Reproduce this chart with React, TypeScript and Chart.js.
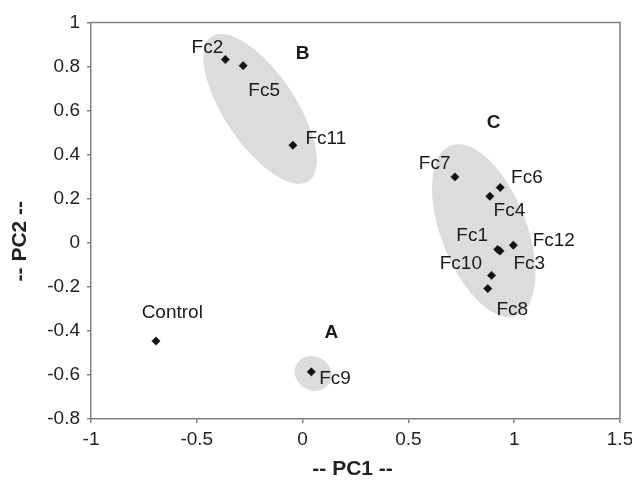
import React, { useEffect, useRef } from "react";
import { Chart, registerables } from "chart.js";

Chart.register(...registerables);

// ---- data ----
const sampleNames = ["Fc1", "Fc2", "Fc3", "Fc4", "Fc5", "Fc6", "Fc7", "Fc8", "Fc9", "Fc10", "Fc11", "Fc12", "Control"];
const pc1Values = [0.922, -0.365, 0.933, 0.885, -0.281, 0.934, 0.72, 0.875, 0.041, 0.893, -0.046, 0.996, -0.693];
const pc2Values = [-0.03, 0.832, -0.037, 0.211, 0.804, 0.251, 0.299, -0.208, -0.586, -0.148, 0.443, -0.011, -0.446];

const xTickValues = [-1, -0.5, 0, 0.5, 1, 1.5];
const xTickLabels = ["-1", "-0.5", "0", "0.5", "1", "1.5"];
const yTickValues = [-0.8, -0.6, -0.4, -0.2, 0, 0.2, 0.4, 0.6, 0.8, 1];
const yTickLabels = ["-0.8", "-0.6", "-0.4", "-0.2", "0", "0.2", "0.4", "0.6", "0.8", "1"];

const groupNames = ["A", "B", "C"];
const groupPc1 = [0.136, 0.0, 0.903];
const groupPc2 = [-0.408, 0.856, 0.547];

// cluster ellipse centres (data units)
const ellipseGroups = ["A", "B", "C"];
const ellipsePc1 = [0.05, -0.201, 0.856];
const ellipsePc2 = [-0.593, 0.608, 0.055];

// ---- styling / placement (pixels) ----
const ellipseShape = [
  { rx: 19, ry: 17, rot: 30 },
  { rx: 87, ry: 35.6, rot: 56.2 },
  { rx: 91.3, ry: 42.7, rot: 68.8 },
];
const labelOffsets: [number, number][] = [
  [-25.5, -13.2], // Fc1
  [-18, -12], // Fc2
  [29.2, 12.5], // Fc3
  [19.5, 14.8], // Fc4
  [21, 25.5], // Fc5
  [26.7, -9.8], // Fc6
  [-20.3, -13.4], // Fc7
  [24.5, 20.9], // Fc8
  [23.8, 7.1], // Fc9
  [-30.7, -11.8], // Fc10
  [33, -6], // Fc11
  [40.4, -4.5], // Fc12
  [16.3, -28.7], // Control
];

const FONT = "'Liberation Sans', Arial, sans-serif";
const AXIS_COLOR = "#808080";

const ellipsePlugin = {
  id: "ellipses",
  beforeDatasetsDraw(chart: any) {
    const { ctx, scales } = chart;
    ctx.save();
    ctx.fillStyle = "#dcdcdc";
    ellipseGroups.forEach((_, i) => {
      const cx = scales.x.getPixelForValue(ellipsePc1[i]);
      const cy = scales.y.getPixelForValue(ellipsePc2[i]);
      const s = ellipseShape[i];
      ctx.beginPath();
      ctx.ellipse(cx, cy, s.rx, s.ry, (s.rot * Math.PI) / 180, 0, Math.PI * 2);
      ctx.fill();
    });
    ctx.restore();
  },
};

const labelPlugin = {
  id: "pointLabels",
  afterDatasetsDraw(chart: any) {
    const { ctx, scales } = chart;
    const meta = chart.getDatasetMeta(0);
    ctx.save();
    ctx.textAlign = "center";
    ctx.textBaseline = "middle";
    ctx.fillStyle = "#1a1a1a";
    ctx.font = `19px ${FONT}`;
    meta.data.forEach((pt: any, i: number) => {
      const [dx, dy] = labelOffsets[i];
      ctx.fillText(sampleNames[i], pt.x + dx, pt.y + dy);
    });
    ctx.font = `bold 19px ${FONT}`;
    groupNames.forEach((g, i) => {
      ctx.fillText(g, scales.x.getPixelForValue(groupPc1[i]), scales.y.getPixelForValue(groupPc2[i]));
    });
    ctx.restore();
  },
};

const framePlugin = {
  id: "frame",
  afterDraw(chart: any) {
    const { ctx, chartArea } = chart;
    ctx.save();
    ctx.strokeStyle = AXIS_COLOR;
    ctx.lineWidth = 1.5;
    ctx.beginPath();
    ctx.moveTo(chartArea.left, chartArea.top);
    ctx.lineTo(chartArea.right, chartArea.top);
    ctx.lineTo(chartArea.right, chartArea.bottom);
    ctx.stroke();
    ctx.restore();
  },
};

export default function App() {
  const ref = useRef<HTMLCanvasElement | null>(null);

  useEffect(() => {
    if (!ref.current) return;
    const chart = new Chart(ref.current, {
      type: "scatter",
      data: {
        datasets: [
          {
            label: "PCA",
            data: pc1Values.map((x, i) => ({ x, y: pc2Values[i] })),
            pointStyle: "rectRot",
            pointRadius: 4.2,
            pointHoverRadius: 4.2,
            backgroundColor: "#111111",
            borderColor: "#111111",
            borderWidth: 0.5,
          },
        ],
      },
      options: {
        responsive: false,
        animation: false,
        events: [],
        layout: { padding: { top: 22.5, right: 12, left: 0, bottom: 0 } },
        plugins: {
          legend: { display: false },
          tooltip: { enabled: false },
          title: { display: false },
        },
        scales: {
          x: {
            type: "linear",
            min: -1,
            max: 1.5,
            afterBuildTicks: (scale: any) => {
              scale.ticks = xTickValues.map((v) => ({ value: v }));
            },
            afterFit: (scale: any) => {
              scale.height = 61;
              scale.paddingRight = 12;
              scale.paddingLeft = 0;
            },
            ticks: {
              callback: (_v: any, i: number) => xTickLabels[i],
              font: { family: FONT, size: 19 },
              color: "#222222",
              padding: 5,
              maxRotation: 0,
            },
            grid: {
              drawOnChartArea: false,
              drawTicks: true,
              tickLength: 4,
              color: AXIS_COLOR,
              lineWidth: 1.5,
            },
            border: { display: true, color: AXIS_COLOR, width: 1.5 },
            title: {
              display: true,
              text: "-- PC1 --\u00A0",
              font: { family: FONT, size: 21, weight: "bold", lineHeight: 1 },
              color: "#222222",
              padding: { top: 0, bottom: 0 },
            },
          },
          y: {
            type: "linear",
            min: -0.8,
            max: 1,
            afterBuildTicks: (scale: any) => {
              scale.ticks = yTickValues.map((v) => ({ value: v }));
            },
            afterFit: (scale: any) => {
              scale.width = 91;
            },
            ticks: {
              callback: (_v: any, i: number) => yTickLabels[i],
              font: { family: FONT, size: 19 },
              color: "#222222",
              padding: 7,
            },
            grid: {
              drawOnChartArea: false,
              drawTicks: true,
              tickLength: 4,
              color: AXIS_COLOR,
              lineWidth: 1.5,
            },
            border: { display: true, color: AXIS_COLOR, width: 1.5 },
            title: {
              display: true,
              text: "-- PC2 --\u00A0\u00A0\u00A0\u00A0\u00A0\u00A0\u00A0",
              font: { family: FONT, size: 21, weight: "bold", lineHeight: 1 },
              color: "#222222",
              padding: { top: 9.5, bottom: 0 },
            },
          },
        },
      },
      plugins: [ellipsePlugin, labelPlugin, framePlugin],
    });
    return () => chart.destroy();
  }, []);

  return (
    <div style={{ position: "absolute", left: 0, top: 0, width: 632, height: 480, background: "#fff" }}>
      <canvas ref={ref} width={632} height={480} style={{ display: "block" }} />
    </div>
  );
}
